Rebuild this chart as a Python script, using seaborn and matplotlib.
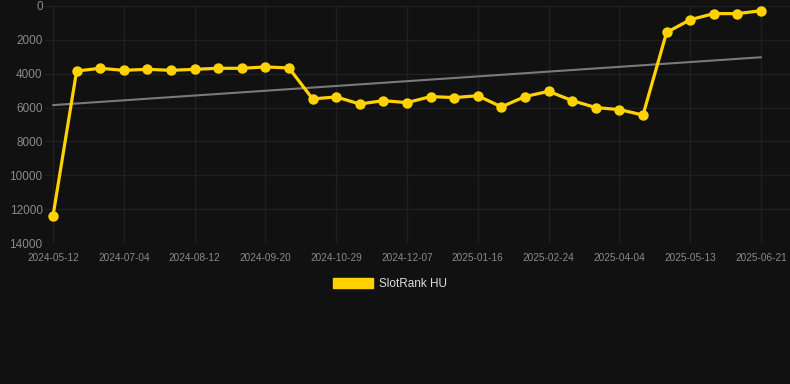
import numpy as np
import pandas as pd
import matplotlib
matplotlib.use("Agg")
import matplotlib.pyplot as plt
from matplotlib.patches import Patch
import seaborn as sns

# ---- data ----
ranks = [12400, 3840, 3680, 3800, 3740, 3800, 3740, 3680, 3680, 3600, 3660,
         5490, 5370, 5790, 5590, 5710, 5350, 5410, 5300, 5960, 5350,
         5040, 5590, 6000, 6120, 6440, 1560, 810, 450, 450, 280]
tick_labels = ["2024-05-12", "2024-07-04", "2024-08-12", "2024-09-20",
               "2024-10-29", "2024-12-07", "2025-01-16", "2025-02-24",
               "2025-04-04", "2025-05-13", "2025-06-21"]
tick_every = 3
y_ticks = [0, 2000, 4000, 6000, 8000, 10000, 12000, 14000]
series_name = "SlotRank HU"

BG = "#111111"
GRID = "#202020"
YELLOW = "#FFD200"
TREND = "#7a7a7a"
TICKC = "#8a8a8a"

sns.set_theme(style="dark", rc={
    "axes.facecolor": BG, "figure.facecolor": BG,
    "axes.edgecolor": BG, "grid.color": GRID,
})
plt.rcParams["font.family"] = ["Liberation Sans", "DejaVu Sans"]

idx = np.arange(len(ranks))
df = pd.DataFrame({"idx": idx, "rank": ranks})

fig = plt.figure(figsize=(7.9, 3.84), dpi=100)
W, H = 790, 384
step = 23.6
x0px = 53
left_units, right_units = 0.35, 1.25
ax_left_px = x0px - left_units * step
ax_w_px = (len(ranks) - 1 + left_units + right_units) * step
ax = fig.add_axes([ax_left_px / W, 1 - 243 / H, ax_w_px / W, 237 / H])
ax.set_facecolor(BG)

# trend line (linear regression)
coef = np.polyfit(idx, ranks, 1)
trend = np.polyval(coef, idx)
sns.lineplot(x=idx, y=trend, ax=ax, color=TREND, linewidth=1.5, legend=False)

sns.lineplot(data=df, x="idx", y="rank", ax=ax, color=YELLOW, linewidth=2.3,
             marker="o", markersize=7.5, markeredgewidth=0,
             markerfacecolor=YELLOW, legend=False, clip_on=False)

ax.set_xlim(-left_units, len(ranks) - 1 + right_units)
ax.set_ylim(14000, 0)
ax.set_yticks(y_ticks)
ax.set_yticklabels([str(v) for v in y_ticks], fontsize=8.5, color=TICKC)
ax.set_xticks(idx[::tick_every])
ax.set_xticklabels(tick_labels, fontsize=7.2, color=TICKC)
ax.set_xlabel("")
ax.set_ylabel("")
ax.grid(True, color=GRID, linewidth=1)
ax.tick_params(axis="x", length=5, color=GRID, width=1, pad=2)
ax.tick_params(axis="y", length=0, pad=1.5)
for s in ax.spines.values():
    s.set_visible(False)

handle = Patch(facecolor=YELLOW, edgecolor=YELLOW, label=series_name)
fig.legend(handles=[handle], loc="center", bbox_to_anchor=(390 / W, 1 - 284 / H),
           frameon=False, fontsize=8.5, labelcolor="#dddddd",
           handlelength=3.4, handleheight=1.0, handletextpad=0.55)

fig.savefig("out.png", dpi=100, facecolor=BG)
